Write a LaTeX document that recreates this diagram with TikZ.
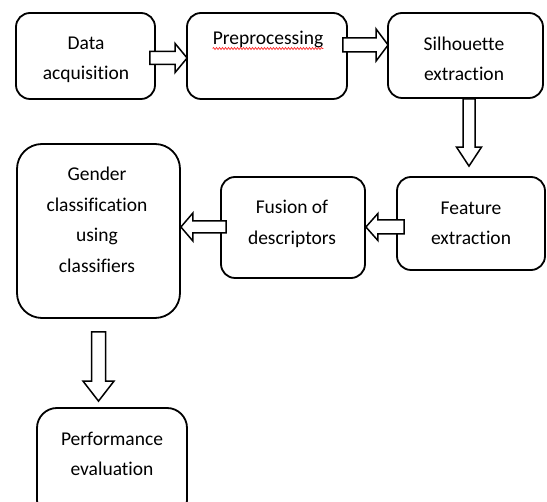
\documentclass[tikz,border=0pt]{standalone}
\usepackage{fontspec}
\setmainfont{Carlito}[Ligatures={NoCommon}]
\usetikzlibrary{calc,decorations.pathmorphing}
\newcommand\blockarrow[5]{% start, end, shaft half width, head half width, head length
  \draw[blockarrow] let \p1=(#1), \p2=(#2),
    \n1={veclen(\x2-\x1,\y2-\y1)}, \n2={atan2(\y2-\y1,\x2-\x1)},
    \n3={\n1-#5pt}, \n4={\n2+90}, \n5={\n2-90}
  in ($(\p1)+(\n4:#3pt)$) -- ($(\p1)+(\n4:#3pt)+(\n2:\n3)$)
  -- ($(\p1)+(\n4:#4pt)+(\n2:\n3)$) -- (\p2)
  -- ($(\p1)+(\n5:#4pt)+(\n2:\n3)$) -- ($(\p1)+(\n5:#3pt)+(\n2:\n3)$)
  -- ($(\p1)+(\n5:#3pt)$) -- cycle;}
\begin{document}
\begin{tikzpicture}[x=1pt,y=-1pt,
  box/.style={draw, line width=1.8pt, rounded corners=14pt, inner sep=0pt, fill=white},
  txt/.style={font=\fontsize{19.5}{30.5}\selectfont, align=center, anchor=base, inner sep=0pt},
  blockarrow/.style={draw, line width=1.5pt, fill=white, line join=miter},
  squiggle/.style={draw=red!85, line width=0.7pt, decorate, decoration={snake, amplitude=1pt, segment length=3pt}}]
\useasboundingbox (0,0) rectangle (547,502);
\clip (0,0) rectangle (547,502);
% boxes
\node[box, minimum width=139pt, minimum height=86pt] (b1) at (85.5,56) {};
\node[box, minimum width=160pt, minimum height=86pt] (b2) at (267,56) {};
\node[box, minimum width=155pt, minimum height=85pt] (b3) at (465.5,55.5) {};
\node[box, minimum width=148pt, minimum height=93pt] (b4) at (471,223.5) {};
\node[box, minimum width=144pt, minimum height=101pt] (b5) at (293,227.5) {};
\node[box, minimum width=163pt, minimum height=174pt, rounded corners=25pt] (b6) at (98.5,231) {};
\node[box, minimum width=150pt, minimum height=112pt, rounded corners=20pt] (b7) at (112,464) {};
% texts (anchor = baseline of last line)
\node[txt] (t1) at (86,80) {Data\\acquisition};
\node[txt] (t2) at (268,45) {Preprocessing};
\node[txt] (t3) at (464,81) {Silhouette\\extraction};
\node[txt] (t4) at (471,245) {Feature\\extraction};
\node[txt] (t5) at (292,244.5) {Fusion of\\descriptors};
\node[txt] (t6) at (97,272.5) {Gender\\classification\\using\\classifiers};
\node[txt] (t7) at (112,476) {Performance\\evaluation};
\draw[squiggle] ($(t2.base west)+(0,3.5)$) -- ($(t2.base east)+(0,3.5)$);
% connector end points
\coordinate (a1s) at ($(b1.east)+(-6,2)$);
\coordinate (a1e) at ($(b2.west)+(1,2)$);
\coordinate (a2s) at ($(b2.east)+(-5,-11)$);
\coordinate (a2e) at ($(b3.west)+(1,-10.5)$);
\coordinate (a3s) at ($(b3.south)+(3.5,0)$);
\coordinate (a3e) at ($(b4.north)+(-2,-10)$);
\coordinate (a4s) at ($(b4.west)+(8,3.5)$);
\coordinate (a4e) at ($(b5.east)+(0,-0.5)$);
\coordinate (a5s) at ($(b5.west)+(6,-0.5)$);
\coordinate (a5e) at ($(b6.east)+(0,-4)$);
\coordinate (a6s) at ($(b6.south)+(0,13)$);
\coordinate (a6e) at ($(b7.north)+(-13.5,-6)$);
% block arrows
\blockarrow{a1s}{a1e}{6.5}{14.5}{12}
\blockarrow{a2s}{a2e}{7}{16}{12}
\blockarrow{a3s}{a3e}{6}{12.5}{19}
\blockarrow{a4s}{a4e}{7}{13.5}{12}
\blockarrow{a5s}{a5e}{6}{14}{12}
\blockarrow{a6s}{a6e}{7}{15.5}{20}
\end{tikzpicture}
\end{document}
